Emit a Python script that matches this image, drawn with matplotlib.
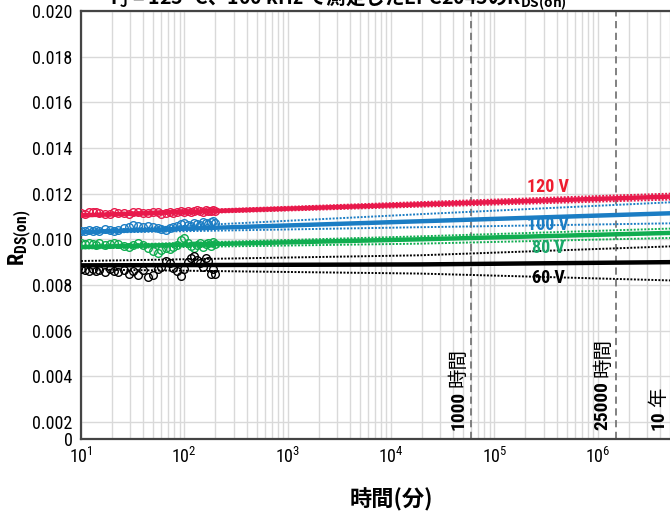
import matplotlib
matplotlib.use("Agg")
import matplotlib.pyplot as plt
from matplotlib.ticker import FixedLocator, FixedFormatter, LogLocator, NullFormatter

#fonts: narrow latin first, japanese as fallback
plt.rcParams["font.family"] = ["Roboto Condensed", "Noto Sans CJK JP", "DejaVu Sans"]

#measured times (minutes) and R_DS(on) readings per drain voltage
times = [10, 11, 12, 13, 14, 15, 17, 19, 21, 23, 26, 29, 32, 36, 40, 45, 50, 55,
         60, 66, 72, 78, 85, 92, 100, 108, 116, 125, 134, 143, 152, 161, 170, 180, 190, 200]
r120 = [0.01115, 0.01112, 0.01118, 0.01120, 0.01119, 0.01116, 0.01110, 0.01112, 0.01118,
        0.01114, 0.01116, 0.01112, 0.01118, 0.01120, 0.01116, 0.01114, 0.01120, 0.01118,
        0.01112, 0.01116, 0.01120, 0.01115, 0.01118, 0.01122, 0.01120, 0.01125, 0.01118,
        0.01122, 0.01128, 0.01124, 0.01120, 0.01130, 0.01126, 0.01122, 0.01128, 0.01124]
r100 = [0.01035, 0.01038, 0.01040, 0.01036, 0.01042, 0.01038, 0.01045, 0.01040, 0.01036,
        0.01042, 0.01048, 0.01055, 0.01062, 0.01058, 0.01052, 0.01060, 0.01056, 0.01050,
        0.01045, 0.01040, 0.01048, 0.01055, 0.01060, 0.01066, 0.01070, 0.01062, 0.01058,
        0.01072, 0.01068, 0.01064, 0.01075, 0.01070, 0.01066, 0.01078, 0.01082, 0.01072]
r80 = [0.00982, 0.00978, 0.00985, 0.00980, 0.00976, 0.00982, 0.00975, 0.00978, 0.00984,
       0.00980, 0.00972, 0.00968, 0.00976, 0.00982, 0.00975, 0.00960, 0.00950, 0.00942,
       0.00955, 0.00962, 0.00958, 0.00966, 0.00975, 0.00995, 0.01004, 0.00985, 0.00970,
       0.00960, 0.00975, 0.00982, 0.00968, 0.00978, 0.00985, 0.00972, 0.00990, 0.00980]
r60 = [0.00868, 0.00865, 0.00862, 0.00870, 0.00860, 0.00866, 0.00858, 0.00870, 0.00862,
       0.00856, 0.00864, 0.00850, 0.00860, 0.00845, 0.00866, 0.00835, 0.00842, 0.00870,
       0.00880, 0.00905, 0.00895, 0.00875, 0.00860, 0.00838, 0.00870, 0.00900, 0.00918,
       0.00925, 0.00910, 0.00895, 0.00880, 0.00920, 0.00905, 0.00848, 0.00870, 0.00850]

#fitted trend and confidence bounds, read at these times
fit_times = [10, 19000, 5000000, 10000000]
fit120 = [0.01105, 0.01153, 0.01187, 0.01191]
up120 = [0.01110, 0.01163, 0.01200, 0.01206]
lo120 = [0.01100, 0.01143, 0.01174, 0.01177]
fit100 = [0.01032, 0.01079, 0.01114, 0.01119]
up100 = [0.01036, 0.01110, 0.01162, 0.01170]
lo100 = [0.01028, 0.01053, 0.01070, 0.01072]
fit80 = [0.00966, 0.01000, 0.01028, 0.01032]
up80 = [0.00972, 0.01013, 0.01047, 0.01052]
lo80 = [0.00960, 0.00981, 0.01006, 0.01010]
fit60 = [0.00886, 0.00890, 0.00900, 0.00901]
up60 = [0.00905, 0.00930, 0.00969, 0.00975]
lo60 = [0.00868, 0.00850, 0.00820, 0.00815]

labels = ["120 V", "100 V", "80 V", "60 V"]
label_pos = [(3.3e5, 0.01228), (3.3e5, 0.01061), (3.3e5, 0.00960), (3.3e5, 0.00829)]

#lifetime markers in minutes: number part and unit part
markers_t = [60000, 1500000, 5259600]
markers_num = ["1000", "25000", "10"]
markers_unit = ["時間", "時間", "年"]

colors = ["#e8194b", "#1b7dc4", "#10ad50", "#000000"]
text_colors = ["#ee1c2e", "#1b7dc4", "#1aa86a", "#000000"]

fig = plt.figure(figsize=(6.7, 5.27), dpi=100)
ax = fig.add_axes([81 / 670, 1 - 439 / 527, 620 / 670, 428 / 527])

series = [(r120, fit120, up120, lo120), (r100, fit100, up100, lo100),
          (r80, fit80, up80, lo80), (r60, fit60, up60, lo60)]
for (meas, fit, up, lo), c in zip(series, colors):
    ax.plot(fit_times, fit, color=c, lw=3.2, zorder=3, solid_capstyle="butt")
    ax.plot(fit_times, up, color=c, lw=1.4, ls=(0, (1, 0.8)), zorder=3)
    ax.plot(fit_times, lo, color=c, lw=1.4, ls=(0, (1, 0.8)), zorder=3)
    ax.plot(times, meas, ls="none", marker="o", ms=5.5, mfc="none", mec=c, mew=1.0, zorder=4)

for txt, (x, y), c in zip(labels, label_pos, text_colors):
    ax.text(x, y, txt, color=c, fontsize=13, fontweight="bold", ha="center", va="center", zorder=5)

for t, num, unit in zip(markers_t, markers_num, markers_unit):
    ax.axvline(t, color="#777777", lw=1.3, ls=(0, (4, 2.5)), zorder=2)
    t1 = ax.annotate(num, xy=(t, 0.02), xycoords=("data", "axes fraction"), xytext=(-3, 0),
                     textcoords="offset points", rotation=90, ha="right", va="bottom",
                     fontsize=14, fontweight="bold")
    ax.annotate(unit, xy=(0.5, 1.0), xycoords=t1, xytext=(0, 3), textcoords="offset points",
                rotation=90, ha="center", va="bottom", fontsize=14, family="Noto Sans CJK JP")

#axes scales and ticks
ymin = 0.001254
ax.set_xscale("log")
ax.set_xlim(10, 1e7)
ax.set_xticks([1e1, 1e2, 1e3, 1e4, 1e5, 1e6])
ax.set_ylim(ymin, 0.020)
yt = [ymin, 0.002, 0.004, 0.006, 0.008, 0.010, 0.012, 0.014, 0.016, 0.018, 0.020]
ax.yaxis.set_major_locator(FixedLocator(yt))
ax.yaxis.set_major_formatter(FixedFormatter(["0"] + ["%.3f" % v for v in yt[1:]]))
ax.xaxis.set_minor_locator(LogLocator(base=10, subs=range(2, 10), numticks=20))
ax.xaxis.set_minor_formatter(NullFormatter())
ax.tick_params(which="both", length=0, labelsize=13, pad=6)

ax.grid(True, which="major", color="#d9d9d9", lw=1.0, zorder=0)
ax.grid(True, which="minor", axis="x", color="#d9d9d9", lw=1.0, zorder=0)
ax.axvline(1e7, color="#d9d9d9", lw=1.0, zorder=0)
ax.set_axisbelow(True)
for s in ax.spines.values():
    s.set_color("#444444")
    s.set_linewidth(1.6)

ax.set_xlabel("時間(分)", fontsize=16, fontweight="bold", labelpad=15, family="Noto Sans CJK JP")
ax.set_ylabel(r"$\mathregular{R_{DS(on)}}$", fontsize=16, fontweight="bold")
ax.yaxis.set_label_coords(-0.075, 0.47)

#title, mostly outside the top edge as in the source
fig.text(0.503, 1 - 5 / 527, r"$\mathregular{T_J}$ = 125 °C、100 kHz で測定したEPC2045の$\mathregular{R_{DS(on)}}$",
         ha="center", va="baseline", fontsize=14, fontweight="bold", family="Noto Sans CJK JP")

fig.savefig("out.png", dpi=100)
